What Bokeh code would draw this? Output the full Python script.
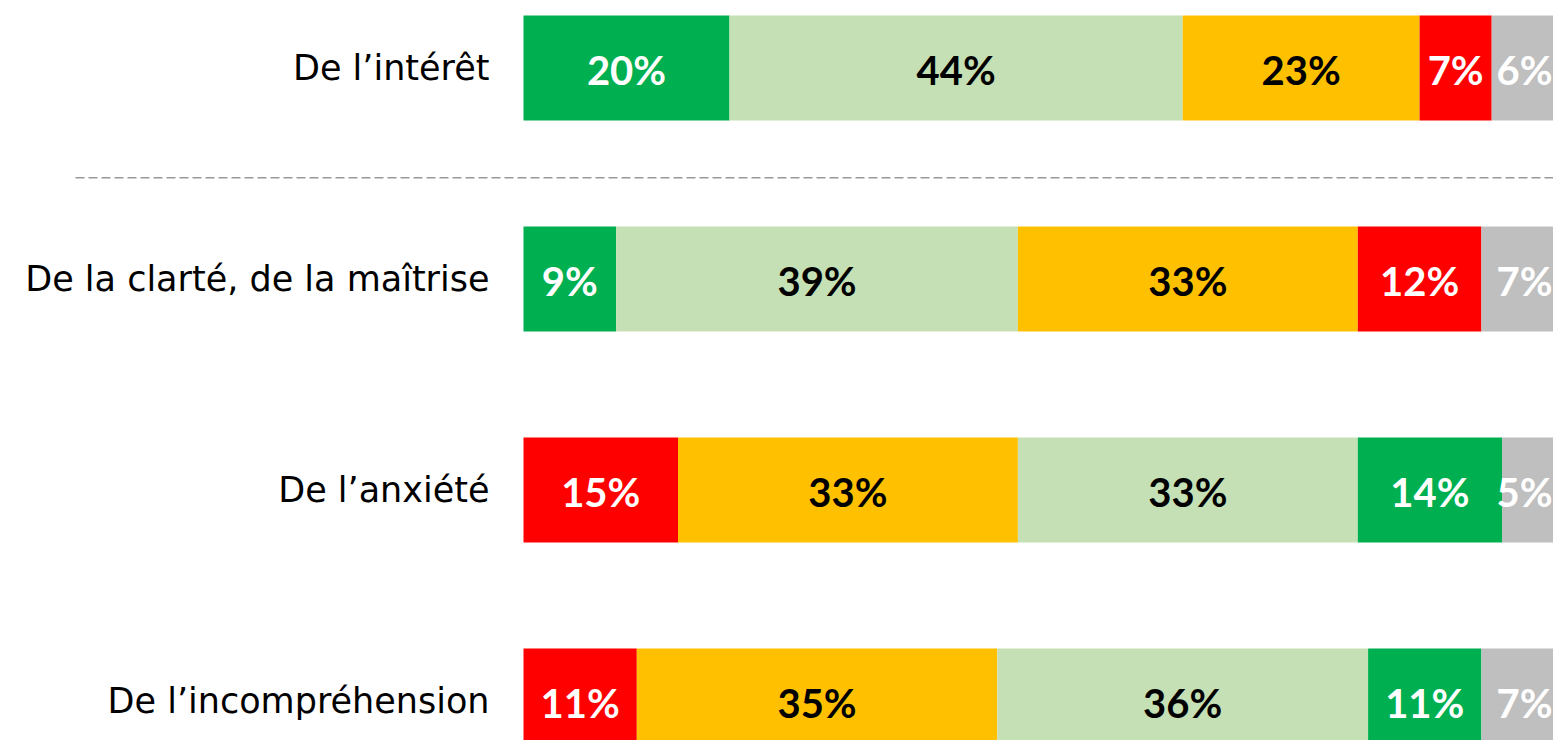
from bokeh.plotting import figure
from bokeh.models import ColumnDataSource, Range1d
from bokeh.core.properties import value
from bokeh.embed import file_html
from bokeh.resources import INLINE

# ---- data ----
categories = ["De l\u2019intérêt", "De la clarté, de la maîtrise", "De l\u2019anxiété", "De l\u2019incompréhension"]
level1 = [20, 9, 15, 11]
level2 = [44, 39, 33, 35]
level3 = [23, 33, 33, 36]
level4 = [7, 12, 14, 11]
nsp = [6, 7, 5, 7]
tone = ["positive", "positive", "negative", "negative"]

# ---- styles ----
DARK_GREEN = "#00B050"
LIGHT_GREEN = "#C5E0B4"
YELLOW = "#FFC000"
RED = "#FF0000"
GREY = "#BFBFBF"
palettes = {
    "positive": [DARK_GREEN, LIGHT_GREEN, YELLOW, RED, GREY],
    "negative": [RED, YELLOW, LIGHT_GREEN, DARK_GREEN, GREY],
}
text_on = {DARK_GREEN: "white", RED: "white", GREY: "white", LIGHT_GREEN: "black", YELLOW: "black"}

series = [level1, level2, level3, level4, nsp]

rows = dict(y=[], left=[], right=[], mid=[], color=[], tcolor=[], label=[])
last = dict(y=[], right=[], label=[])
for i, cat in enumerate(categories):
    cum = 0
    for k, s in enumerate(series):
        v = s[i]
        c = palettes[tone[i]][k]
        rows["y"].append(i)
        rows["left"].append(cum)
        rows["right"].append(cum + v)
        rows["mid"].append(cum + v / 2)
        rows["color"].append(c)
        rows["tcolor"].append(text_on[c])
        rows["label"].append(f"{v}%")
        if k == len(series) - 1:
            last["y"].append(i)
            last["right"].append(cum + v)
            last["label"].append(f"{v}%")
        cum += v
src = ColumnDataSource(rows)
inner = {key: [val for val, s in zip(vals, [(k % len(series)) for k in range(len(rows["y"]))]) if s < len(series) - 1]
         for key, vals in rows.items()}
inner_src = ColumnDataSource(inner)
last_src = ColumnDataSource(last)

W, H = 1553, 740
x0_px = 523
px_per = (W - x0_px) / 100.0
row_px = 211.0
top_center = 67.5

cat_src = ColumnDataSource(dict(y=list(range(len(categories))),
                                x=[-34 / px_per] * len(categories), text=categories))

p = figure(width=W, height=H, output_backend="svg", toolbar_location=None,
           x_range=Range1d(-x0_px / px_per, (W - x0_px) / px_per),
           y_range=Range1d((H - top_center) / row_px, -top_center / row_px),
           min_border=0, min_border_left=0, min_border_right=0, min_border_top=0, min_border_bottom=0)
p.axis.visible = False
p.grid.visible = False
p.outline_line_color = None
p.background_fill_color = "white"
p.border_fill_color = "white"

p.hbar(y="y", left="left", right="right", height=105 / row_px, fill_color="color", line_color=None, source=src)
p.text(x="mid", y="y", text="label", text_color="tcolor", text_align="center", text_baseline="middle",
       text_font=value("Lato"), text_font_style="bold", text_font_size="40px", source=inner_src, y_offset=2)
p.text(x="right", y="y", text="label", text_color="white", text_align="right", text_baseline="middle",
       text_font=value("Lato"), text_font_style="bold", text_font_size="40px", source=last_src,
       x_offset=-1, y_offset=2)
p.text(x="x", y="y", text="text", text_color="black", text_align="right", text_baseline="middle",
       text_font=value("DejaVu Sans"), text_font_size="35px", source=cat_src, y_offset=0)

# separator between first and second item
p.segment(x0=[-448 / px_per], y0=[0.52], x1=[110], y1=[0.52],
          line_color="#999999", line_width=1.5, line_dash="9 4")

open("out.html", "w").write(file_html(p, INLINE))
